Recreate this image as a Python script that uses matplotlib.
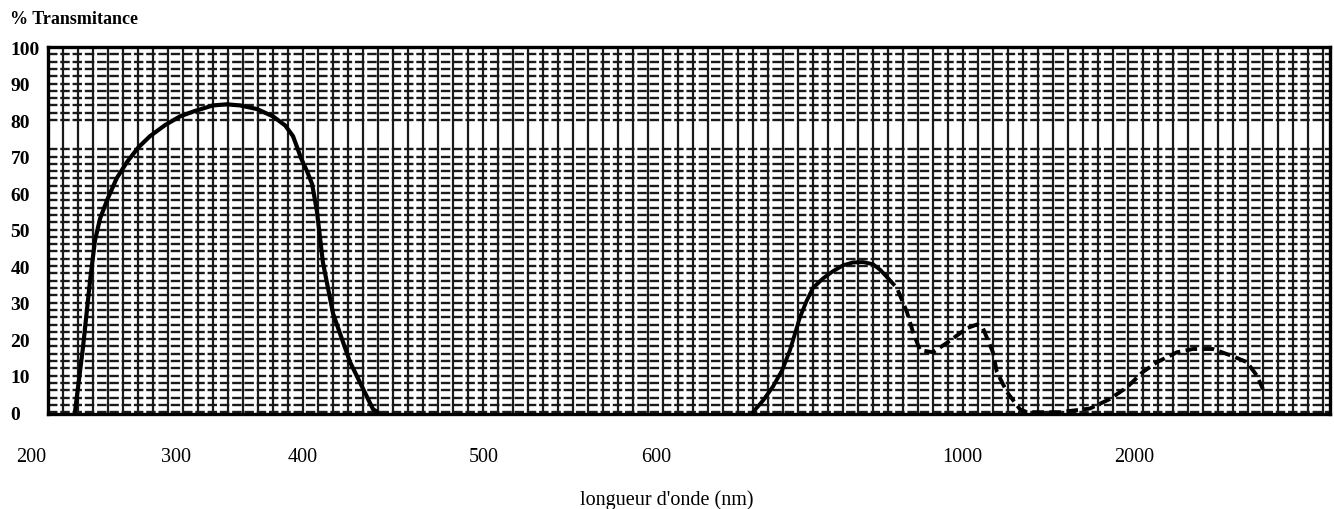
import numpy as np
import matplotlib
matplotlib.use("Agg")
import matplotlib.pyplot as plt
from matplotlib.ticker import MultipleLocator
import matplotlib.transforms as mtransforms

# chart paper scale: wavelength (nm) -> position along the printed axis
scale_nm = [200, 300, 400, 500, 600, 1000, 2000, 4000]
scale_pos = [31, 176, 303, 484, 656, 962, 1134, 1478]

xtick_nm = [200, 300, 400, 500, 600, 1000, 2000]
ytick_vals = [0, 10, 20, 30, 40, 50, 60, 70, 80, 90, 100]

# band 1 (UV)
uv_nm = [230.3, 235.9, 240.7, 244.1, 247.6, 252.4, 259.0, 266.2, 274.0, 282.1,
         292.4, 303.1, 315.0, 329.1, 340.0, 350.4, 363.8, 376.4, 386.0, 392.1,
         395.3, 398.5, 402.2, 405.0, 407.7, 411.0, 416.6, 426.0, 438.7, 441.4]
uv_t = [0, 18, 36, 47, 53, 58, 64, 68.5, 72.5, 75.6,
        78.6, 81, 82.5, 84, 84.3, 84, 83, 81, 78.5, 75.6,
        72.6, 69.5, 66, 62.5, 55, 41, 27, 13.7, 0.8, 0]

# band 2 (solid part)
nir_nm = [726.8, 740.0, 752.9, 765.0, 775.2, 788.2, 797.0, 805.2, 818.2, 831.4,
          844.5, 857.5, 871.0, 883.7, 893.0, 902.0]
nir_t = [0, 3.2, 7, 11.5, 17, 26, 30.5, 34, 36.6, 38.6,
         40.2, 41, 41.1, 40.5, 39, 37]

# dashed part
ir_nm = [902.0, 915.0, 928.1, 935.9, 945.1, 962.1, 980.4, 1029, 1087, 1122,
         1180, 1203, 1262, 1337, 1378, 1453, 1570, 1744, 1860, 1959,
         2052, 2134, 2250, 2343, 2459, 2576, 2657, 2715, 2750]
ir_t = [37, 34, 27.4, 22, 17, 16.4, 19, 23, 24, 23,
        16.4, 11, 5.5, 0.8, 0, 0, 0, 1, 3.6, 6.8,
        11, 13.7, 16.4, 17.3, 17.3, 15.3, 13.7, 10, 6.3]


def fwd(x):
    return np.interp(x, scale_nm, scale_pos)


def inv(p):
    return np.interp(p, scale_pos, scale_nm)


fig = plt.figure(figsize=(13.34, 5.10), dpi=100)
ax = fig.add_axes([48 / 1334, 1 - 415 / 510, 1282 / 1334, 367 / 510])
ax.set_xscale("function", functions=(fwd, inv))
ax.set_xlim(211.7, 3140)
ax.set_ylim(-0.5, 100)

# vertical rulings of the chart paper
gx = fig.add_axes(ax.get_position())
gx.set_xlim(0, 85.5)
gx.set_ylim(0, 1)
gx.xaxis.set_major_locator(MultipleLocator(1))
gx.grid(True, axis="x", color="#1a1a1a", lw=1.6)
gx.tick_params(bottom=False, labelbottom=False, left=False, labelleft=False)
for s in gx.spines.values():
    s.set_visible(False)
gx.set_zorder(0)
ax.set_zorder(1)
ax.patch.set_visible(False)

# horizontal rulings every 2 %
hlines = [v for v in np.arange(2, 100, 2) if v not in (74, 76, 78)]
ax.set_yticks(hlines, minor=True)
ax.grid(True, which="both", axis="y", color="#1a1a1a", lw=1.7,
        linestyle=(0, (4, 1.2)))

ax.plot(uv_nm, uv_t, color="black", lw=3, solid_capstyle="round",
        solid_joinstyle="round", zorder=3)
ax.plot(nir_nm, nir_t, color="black", lw=2.8, solid_capstyle="round",
        solid_joinstyle="round", zorder=3)
ax.plot(ir_nm, ir_t, color="black", lw=2.8, dashes=(3, 1.4), zorder=3)

for s in ax.spines.values():
    s.set_linewidth(2.4)

ax.set_xticks([])
ax.set_yticks(ytick_vals)
ax.tick_params(axis="y", which="both", length=0)
ax.tick_params(axis="y", which="major", pad=27)
for lab in ax.get_yticklabels():
    lab.set_horizontalalignment("left")
    lab.set_fontfamily("Liberation Serif")
    lab.set_fontweight("bold")
    lab.set_fontsize(14)

trans = mtransforms.blended_transform_factory(ax.transData, fig.transFigure)
for v in xtick_nm:
    ax.text(v, 1 - 458 / 510, str(v), transform=trans, ha="center", va="center",
            fontfamily="Liberation Serif", fontsize=14.5, clip_on=False)

fig.text(667 / 1334, 1 - 500 / 510, "longueur d'onde (nm)", ha="center",
         va="center", fontfamily="Liberation Serif", fontsize=14.5)
fig.text(10 / 1334, 1 - 20 / 510, "% Transmitance", ha="left", va="center",
         fontfamily="Liberation Serif", fontweight="bold", fontsize=13)

fig.savefig("out.png", dpi=100)
